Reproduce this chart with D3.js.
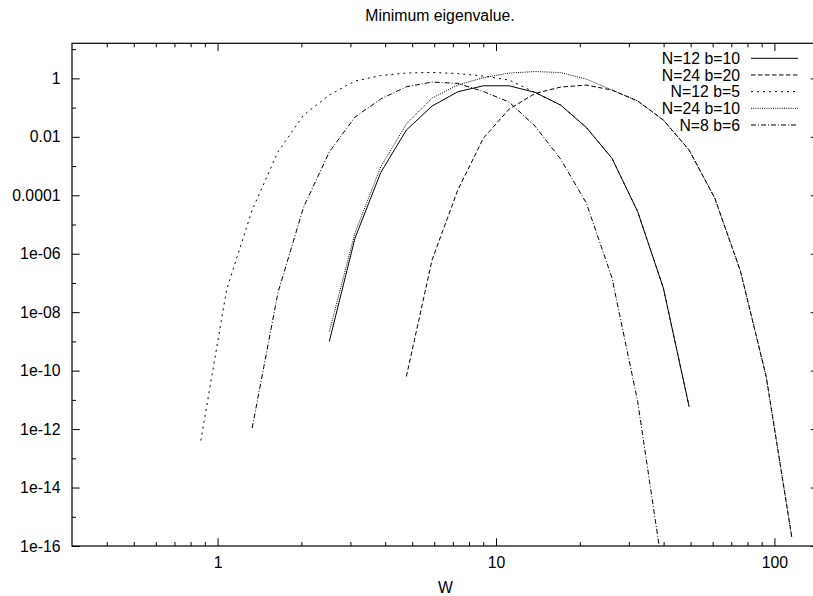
<!DOCTYPE html>
<html>
<head>
<meta charset="utf-8">
<script src="https://cdn.jsdelivr.net/npm/d3@7"></script>
<style>
  html, body { margin: 0; padding: 0; background: #fff; }
  svg text { font-family: "Liberation Sans", Arial, Helvetica, sans-serif; fill: #000; }
</style>
</head>
<body>
<svg id="chart" width="813" height="596"></svg>
<script>
// ---- data ----
const W = [0.8706, 1.077, 1.331, 1.647, 2.037, 2.519, 3.115, 3.853, 4.766, 5.894, 7.292, 9.018,
           11.15, 13.80, 17.06, 21.10, 26.10, 32.28, 39.93, 49.38, 61.08, 75.54, 93.42, 115.6];

const labels = ["N=12 b=10", "N=24 b=20", "N=12 b=5", "N=24 b=10", "N=8 b=6"];
const startIndex = [5, 8, 0, 5, 2];

const N12b10 = [9.9e-10, 3.39e-6, 5.93e-4, 0.0171, 0.113, 0.348, 0.558, 0.558, 0.332, 0.122,
                0.0211, 1.84e-3, 2.75e-5, 6.62e-8, 5.93e-12];
const N24b20 = [6.31e-11, 6.14e-7, 1.52e-4, 9.10e-3, 0.0891, 0.302, 0.505, 0.590, 0.398, 0.168,
                0.0375, 3.54e-3, 7.94e-5, 2.51e-7, 6.31e-11, 1.86e-16];
const N12b5  = [4.07e-13, 5.74e-8, 3.14e-5, 3.02e-3, 0.0556, 0.269, 0.809, 1.25, 1.52, 1.60,
                1.46, 1.20, 0.875, 0.332, 0.122, 0.0211, 1.84e-3, 2.75e-5, 6.62e-8, 5.93e-12];
const N24b10 = [2.17e-9, 5.14e-6, 9.29e-4, 0.0274, 0.212, 0.590, 1.06, 1.52, 1.71, 1.58,
                0.946, 0.398, 0.168, 0.0375, 3.54e-3, 7.94e-5, 2.51e-7, 6.31e-11, 1.86e-16];
const N8b6   = [1.08e-12, 4.57e-8, 3.98e-5, 3.02e-3, 0.0475, 0.196, 0.516, 0.748, 0.675, 0.354,
                0.155, 0.0234, 1.74e-3, 5.46e-5, 1.49e-7, 8.71e-12, 1.05e-17];

const xMajor = [1, 10, 100];
const xMajorLabels = ["1", "10", "100"];
const xMinor = [0.4, 0.5, 0.6, 0.7, 0.8, 0.9, 2, 3, 4, 5, 6, 7, 8, 9, 20, 30, 40, 50, 60, 70, 80, 90];
const yMajor = [1, 1e-2, 1e-4, 1e-6, 1e-8, 1e-10, 1e-12, 1e-14, 1e-16];
const yMajorLabels = ["1", "0.01", "0.0001", "1e-06", "1e-08", "1e-10", "1e-12", "1e-14", "1e-16"];
const yMinor = [10, 0.1, 1e-3, 1e-5, 1e-7, 1e-9, 1e-11, 1e-13, 1e-15];

// ---- layout / styles ----
const L = 72, R = 818.5, T = 43.3, B = 546;
const dashes = [null, "4.5,2.5", "2,4", "1,1.2", "5,2,1,2"];
const seriesValues = [N12b10, N24b20, N12b5, N24b10, N8b6];

const svg = d3.select("#chart");
const x = d3.scaleLog().domain([0.3, 144]).range([L, R]);
const y = d3.scaleLog().domain([1e-16, Math.pow(10, 1.2)]).range([B, T]);

const fontSize = 15.8;

function axisGroup(gen, tx, ty) {
  const g = svg.append("g").attr("transform", `translate(${tx},${ty})`).call(gen);
  g.select(".domain").remove();
  g.selectAll("line").attr("stroke", "#000").attr("stroke-width", 1);
  g.selectAll("text").style("font-size", fontSize + "px").attr("fill", "#000");
  return g;
}
const MAJ = 7.7, MIN = 4;
// bottom
axisGroup(d3.axisBottom(x).tickValues(xMajor).tickSize(-MAJ).tickPadding(11)
  .tickFormat((d, i) => xMajorLabels[i]), 0, B);
axisGroup(d3.axisBottom(x).tickValues(xMinor).tickSize(-MIN).tickFormat(""), 0, B);
// top
axisGroup(d3.axisTop(x).tickValues(xMajor).tickSize(-MAJ).tickFormat(""), 0, T);
axisGroup(d3.axisTop(x).tickValues(xMinor).tickSize(-MIN).tickFormat(""), 0, T);
// left
axisGroup(d3.axisLeft(y).tickValues(yMajor).tickSize(-MAJ).tickPadding(11.5)
  .tickFormat((d, i) => yMajorLabels[i]), L, 0);
axisGroup(d3.axisLeft(y).tickValues(yMinor).tickSize(-MIN).tickFormat(""), L, 0);
// right
axisGroup(d3.axisRight(y).tickValues(yMajor).tickSize(-MAJ).tickFormat(""), R, 0);
axisGroup(d3.axisRight(y).tickValues(yMinor).tickSize(-MIN).tickFormat(""), R, 0);

// border
svg.append("rect").attr("x", L).attr("y", T).attr("width", R - L).attr("height", B - T)
  .attr("fill", "none").attr("stroke", "#000").attr("stroke-width", 1.2);

// clip
svg.append("clipPath").attr("id", "clip").append("rect")
  .attr("x", L).attr("y", T).attr("width", R - L).attr("height", B - T);

const line = d3.line().x(d => x(d[0])).y(d => y(d[1]));
const plot = svg.append("g").attr("clip-path", "url(#clip)");
seriesValues.forEach((vals, s) => {
  const pts = vals.map((v, i) => [W[startIndex[s] + i], v]);
  plot.append("path").datum(pts).attr("d", line)
    .attr("fill", "none").attr("stroke", "#000").attr("stroke-width", 1)
    .attr("stroke-dasharray", dashes[s]);
});

// legend
const legY0 = 58.3, legDY = 16.67;
labels.forEach((lab, s) => {
  const yy = legY0 + s * legDY;
  svg.append("text").attr("x", 740).attr("y", yy).attr("dy", "0.35em")
    .attr("text-anchor", "end").style("font-size", fontSize + "px").text(lab);
  svg.append("line").attr("x1", 751).attr("x2", 798).attr("y1", yy).attr("y2", yy)
    .attr("stroke", "#000").attr("stroke-width", 1).attr("stroke-dasharray", dashes[s]);
});

// title & axis label
svg.append("text").attr("x", 440).attr("y", 21).attr("text-anchor", "middle")
  .style("font-size", fontSize + "px").text("Minimum eigenvalue.");
svg.append("text").attr("x", 445.5).attr("y", 593).attr("text-anchor", "middle")
  .style("font-size", fontSize + "px").text("W");
</script>
</body>
</html>
